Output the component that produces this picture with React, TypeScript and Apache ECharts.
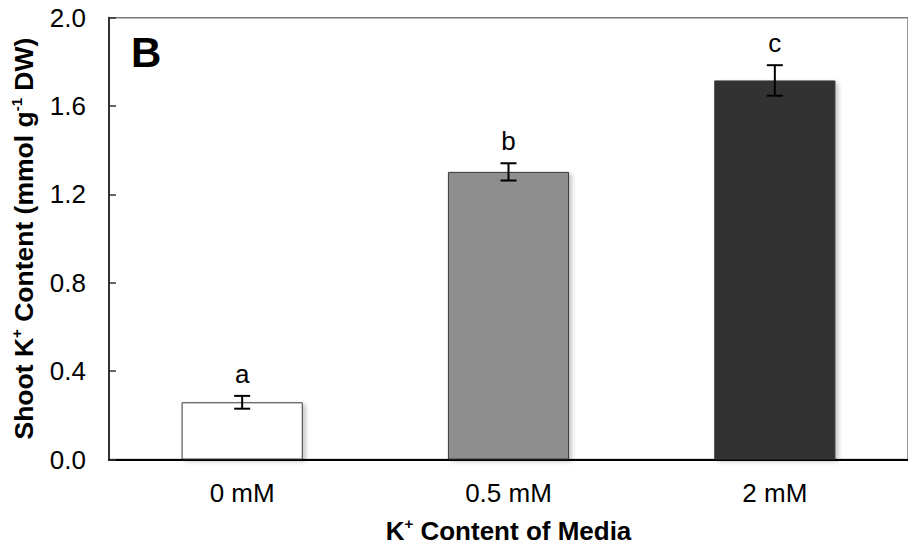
import React, { useEffect, useRef } from "react";
import * as echarts from "echarts";

const categories = ["0 mM", "0.5 mM", "2 mM"];
const values = [0.259, 1.302, 1.716];
const errors = [0.029, 0.039, 0.069];
const letters = ["a", "b", "c"];
const barColors = ["#ffffff", "#8e8e8e", "#303030"];
const panelLabel = "B";

const FONT = "'Liberation Sans', Arial, Helvetica, sans-serif";

export default function App() {
  const ref = useRef<HTMLDivElement>(null);
  useEffect(() => {
    if (!ref.current) return;
    const chart = echarts.init(ref.current, undefined, { renderer: "svg" });
    const richY = {
      b: { fontSize: 26.5, fontWeight: "bold", color: "#000", fontFamily: FONT, lineHeight: 30 },
      s: { fontSize: 15, fontWeight: "bold", color: "#000", fontFamily: FONT, lineHeight: 16, verticalAlign: "top" },
    };
    const richX = {
      b: { fontSize: 26, fontWeight: "bold", color: "#000", fontFamily: FONT, lineHeight: 30 },
      s: { fontSize: 15, fontWeight: "bold", color: "#000", fontFamily: FONT, lineHeight: 16, verticalAlign: "top" },
    };
    chart.setOption({
      animation: false,
      backgroundColor: "#ffffff",
      grid: {
        left: 109,
        top: 17.7,
        right: -8,
        bottom: 92.5,
        show: true,
        borderColor: "#7a7a7a",
        borderWidth: 1.5,
        backgroundColor: "transparent",
      },
      xAxis: {
        type: "category",
        data: categories,
        axisLine: { show: true, lineStyle: { color: "#000", width: 2 } },
        axisTick: { show: false },
        axisLabel: { color: "#000", fontSize: 26, fontFamily: FONT, margin: 20 },
        name: "{b|K}{s|+}{b| Content of Media}",
        nameLocation: "middle",
        nameGap: 56,
        nameTextStyle: { rich: richX },
      },
      yAxis: {
        type: "value",
        min: 0,
        max: 2,
        interval: 0.4,
        axisLine: { show: true, lineStyle: { color: "#333", width: 2 } },
        axisTick: { show: true, inside: true, length: 7, lineStyle: { color: "#333", width: 1.5 } },
        splitLine: { show: false },
        axisLabel: {
          color: "#000",
          fontSize: 26,
          fontFamily: FONT,
          margin: 23,
          formatter: (v: number) => v.toFixed(1),
        },
        name: "{b|Shoot K}{s|+}{b| Content (mmol g}{s|-1}{b| DW)}",
        nameLocation: "middle",
        nameGap: 70,
        nameTextStyle: { rich: richY, padding: [0, 0, 0, 0] },
      },
      graphic: [
        {
          type: "text",
          left: 131,
          top: 31,
          style: { text: panelLabel, fontSize: 42, fontWeight: "bold", fontFamily: FONT, fill: "#000" },
        },
      ],
      series: [
        {
          type: "bar",
          barWidth: "45.5%",
          data: values.map((v, i) => ({
            value: v,
            itemStyle: {
              color: barColors[i],
              borderColor: "#3a3a3a",
              borderWidth: 1,
              shadowColor: "rgba(0,0,0,0.22)",
              shadowBlur: 4,
              shadowOffsetX: 3,
              shadowOffsetY: 2,
            },
          })),
        },
        {
          type: "custom",
          data: values.map((v, i) => [i, v, errors[i]]),
          z: 10,
          renderItem: (params: any, api: any) => {
            const idx = api.value(0);
            const v = api.value(1);
            const e = api.value(2);
            const top = api.coord([idx, v + e]);
            const bot = api.coord([idx, v - e]);
            const cap = 8;
            const style = { stroke: "#000", lineWidth: 2 };
            return {
              type: "group",
              children: [
                { type: "line", shape: { x1: top[0], y1: top[1], x2: bot[0], y2: bot[1] }, style },
                { type: "line", shape: { x1: top[0] - cap, y1: top[1], x2: top[0] + cap, y2: top[1] }, style },
                { type: "line", shape: { x1: bot[0] - cap, y1: bot[1], x2: bot[0] + cap, y2: bot[1] }, style },
                {
                  type: "text",
                  x: top[0],
                  y: top[1] - 9,
                  style: {
                    text: letters[params.dataIndex],
                    fontSize: 26,
                    fontFamily: FONT,
                    fill: "#000",
                    align: "center",
                    verticalAlign: "bottom",
                  },
                },
              ],
            };
          },
        },
      ],
    });
    return () => chart.dispose();
  }, []);
  return (
    <div
      ref={ref}
      style={{ position: "fixed", left: 0, top: 0, width: 908, height: 552 }}
    />
  );
}
